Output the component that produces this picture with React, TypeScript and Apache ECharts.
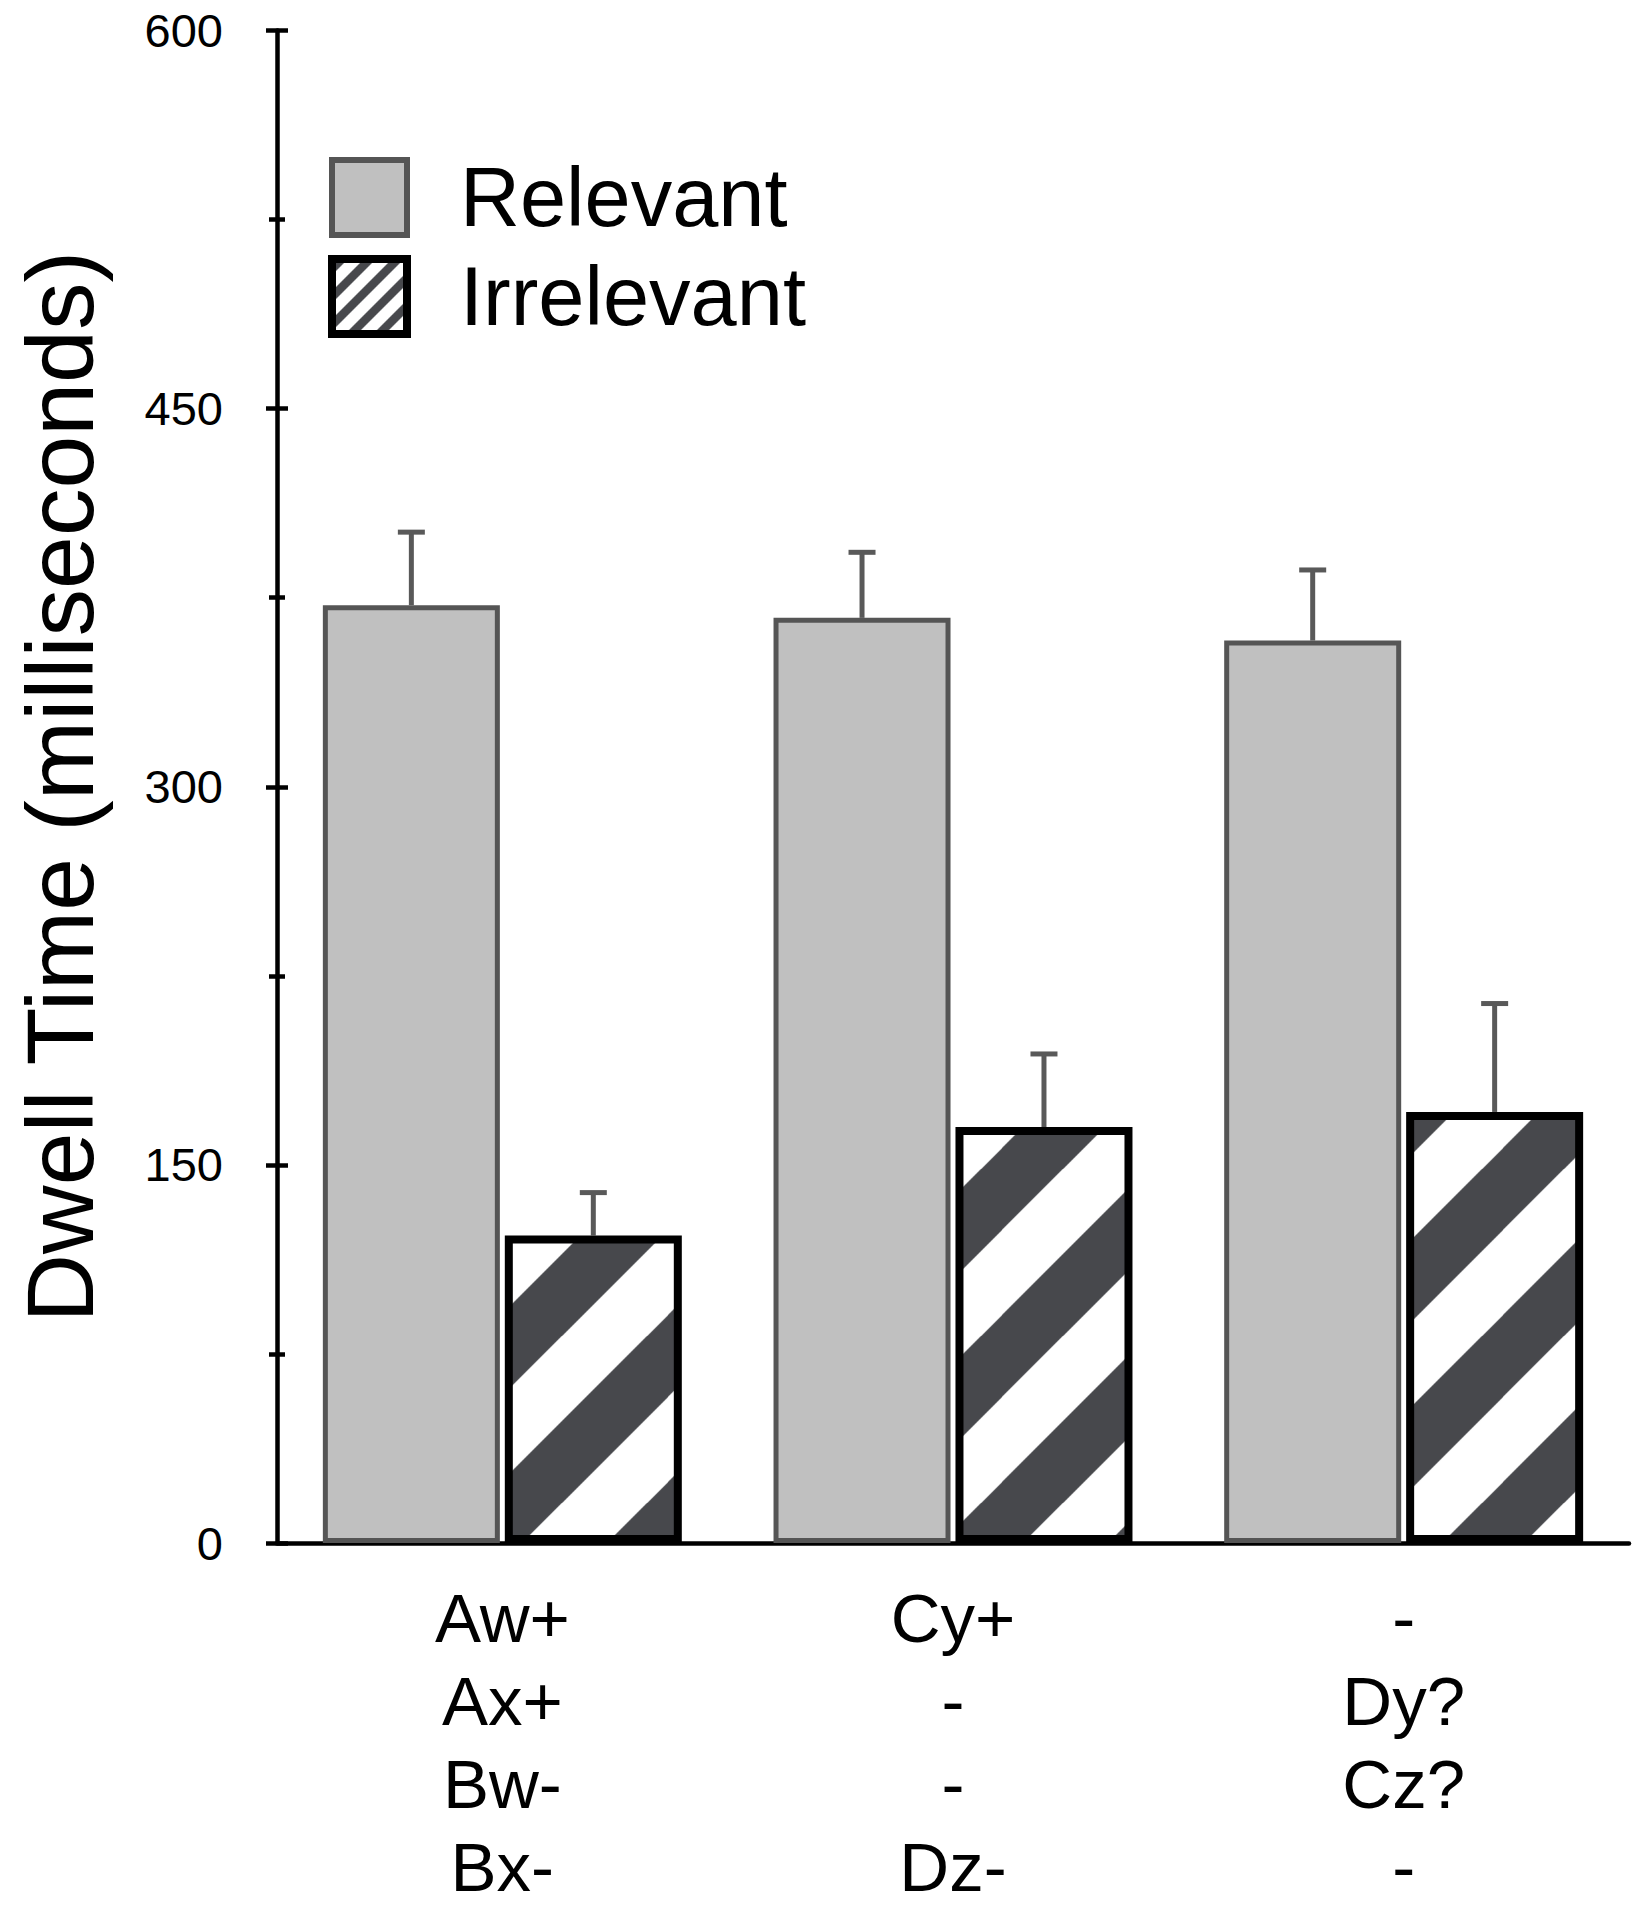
import React, { useEffect, useRef } from "react";
import * as echarts from "echarts";

const FONT = "'Liberation Sans', Arial, Helvetica, sans-serif";

const categories = ["Aw+\nAx+\nBw-\nBx-", "Cy+\n-\n-\nDz-", "-\nDy?\nCz?\n-"];
const seriesNames = ["Relevant", "Irrelevant"];
const relevantMeans = [372, 367, 358];
const relevantErr = [29, 26, 28];
const irrelevantMeans = [122, 165, 171];
const irrelevantErr = [17, 29, 43];
const yMin = 0;
const yMax = 600;
const yInterval = 150;

const BAR_W = 177;
const BAR_GAP = 0.028;
const OFFSET = (BAR_W + BAR_W * BAR_GAP) / 2;

function makeStripes(P: number, dark: number, phase: number, scale = 3) {
  const c = document.createElement("canvas");
  c.width = P * scale;
  c.height = P * scale;
  const ctx = c.getContext("2d")!;
  ctx.scale(scale, scale);
  ctx.fillStyle = "#ffffff";
  ctx.fillRect(0, 0, P, P);
  ctx.fillStyle = "#47484c";
  for (let k = -3; k <= 3; k++) {
    const c1 = phase + k * P;
    const c2 = c1 + dark;
    ctx.beginPath();
    ctx.moveTo(c1 + P, -P);
    ctx.lineTo(c2 + P, -P);
    ctx.lineTo(c2 - 2 * P, 2 * P);
    ctx.lineTo(c1 - 2 * P, 2 * P);
    ctx.closePath();
    ctx.fill();
  }
  return { image: c, repeat: "repeat", imageWidth: P, imageHeight: P } as any;
}

const makeErr = (sign: number) => (params: any, api: any) => {
  const i = api.value(0);
  const m = api.value(1);
  const e = api.value(2);
  const base = api.coord([i, m]);
  const top = api.coord([i, m + e]);
  const x = base[0] + sign * OFFSET;
  const style = { stroke: "#595959", lineWidth: 5 };
  return {
    type: "group",
    children: [
      { type: "line", shape: { x1: x, y1: base[1], x2: x, y2: top[1] }, style },
      { type: "line", shape: { x1: x - 13.5, y1: top[1], x2: x + 13.5, y2: top[1] }, style },
    ],
  };
};

export default function App() {
  const ref = useRef<HTMLDivElement>(null);
  useEffect(() => {
    const chart = echarts.init(ref.current!, null, { renderer: "svg" });
    const barHatch = makeStripes(167, 82, 146);
    const legendHatch = makeStripes(28, 12, 4);
    const tickStyle = { color: "#000", width: 4.5 };
    const option: any = {
      animation: false,
      backgroundColor: "#ffffff",
      textStyle: { fontFamily: FONT },
      grid: { left: 277, top: 30.5, width: 1352, height: 1512.5, outerBoundsMode: "none", containLabel: false },
      legend: {
        orient: "vertical",
        left: 328,
        top: 156,
        padding: 0,
        itemWidth: 75,
        itemHeight: 75,
        itemGap: 16,
        icon: "rect",
        selectedMode: false,
        textStyle: { fontSize: 83, color: "#000", fontFamily: FONT, padding: [0, 0, 0, 48] },
        data: [
          { name: seriesNames[0], itemStyle: { color: "#c0c0c0", borderColor: "#555555", borderWidth: 6 } },
          { name: seriesNames[1], itemStyle: { color: legendHatch, borderColor: "#000000", borderWidth: 8 } },
        ],
      },
      xAxis: {
        type: "category",
        data: categories,
        axisLine: { lineStyle: { color: "#000", width: 4.5 } },
        axisTick: { show: false },
        axisLabel: { fontSize: 69, lineHeight: 83, color: "#000", margin: 34, interval: 0, fontFamily: FONT },
      },
      yAxis: [
        {
          type: "value",
          min: yMin,
          max: yMax,
          interval: yInterval,
          position: "left",
          axisLine: { show: true, lineStyle: tickStyle },
          axisTick: { show: true, length: 11, lineStyle: tickStyle },
          minorTick: { show: true, splitNumber: 2, length: 8, lineStyle: tickStyle },
          splitLine: { show: false },
          minorSplitLine: { show: false },
          axisLabel: { fontSize: 47, color: "#000", margin: 54, fontFamily: FONT },
          name: "Dwell Time (milliseconds)",
          nameLocation: "middle",
          nameRotate: 90,
          nameGap: 170,
          nameTextStyle: { fontSize: 95, color: "#000", fontFamily: FONT },
        },
        {
          type: "value",
          min: yMin,
          max: yMax,
          interval: yInterval,
          position: "left",
          axisLine: { show: false },
          axisTick: { show: true, inside: true, length: 11, lineStyle: tickStyle },
          minorTick: { show: true, splitNumber: 2, length: 8, lineStyle: tickStyle },
          splitLine: { show: false },
          axisLabel: { show: false },
        },
      ],
      series: [
        {
          name: seriesNames[0],
          type: "bar",
          data: relevantMeans,
          barWidth: BAR_W,
          barGap: BAR_GAP * 100 + "%",
          silent: true,
          itemStyle: { color: "#c0c0c0", borderColor: "#555555", borderWidth: 5 },
        },
        {
          name: seriesNames[1],
          type: "bar",
          data: irrelevantMeans,
          barWidth: BAR_W,
          barGap: BAR_GAP * 100 + "%",
          silent: true,
          itemStyle: { color: barHatch, borderColor: "#000000", borderWidth: 8 },
        },
        {
          name: "errRelevant",
          type: "custom",
          silent: true,
          renderItem: makeErr(-1),
          data: relevantMeans.map((m, i) => [i, m, relevantErr[i]]),
          z: 1,
        },
        {
          name: "errIrrelevant",
          type: "custom",
          silent: true,
          renderItem: makeErr(1),
          data: irrelevantMeans.map((m, i) => [i, m, irrelevantErr[i]]),
          z: 1,
        },
      ],
    };
    chart.setOption(option);
    return () => chart.dispose();
  }, []);
  return (
    <div
      ref={ref}
      style={{ position: "fixed", left: 0, top: 0, width: 1632, height: 1909, overflow: "hidden" }}
    />
  );
}
